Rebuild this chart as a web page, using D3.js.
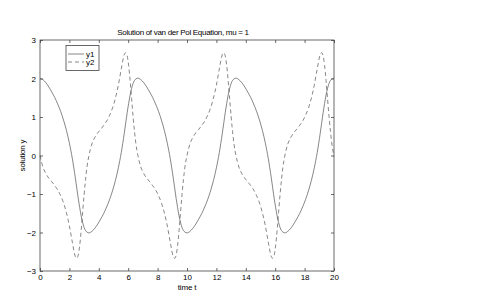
<!DOCTYPE html>
<html>
<head>
<meta charset="utf-8">
<script src="https://cdn.jsdelivr.net/npm/d3@7"></script>
<style>
  body { margin: 0; background: #fff; }
  svg { display: block; }
  text { font-family: "Liberation Sans", Arial, Helvetica, sans-serif; fill: #000; }
</style>
</head>
<body>
<svg id="chart" width="480" height="299"></svg>
<script>
// time points of the solver output
var time = [
  0, 0.2, 0.4, 0.6, 0.8, 1, 1.2, 1.4, 1.6, 1.8, 2, 2.2, 2.4, 2.5, 2.6, 2.7, 2.8, 2.9, 3, 3.1, 3.2,
  3.33, 3.53, 3.73, 3.93, 4.13, 4.33, 4.53, 4.73, 4.93, 5.13, 5.33, 5.53, 5.73, 5.83, 5.93, 6.03, 6.13, 6.23, 6.33, 6.43, 6.53,
  6.66, 6.86, 7.06, 7.26, 7.46, 7.66, 7.86, 8.06, 8.26, 8.46, 8.66, 8.86, 9.06, 9.16, 9.26, 9.36, 9.46, 9.56, 9.66, 9.76, 9.86,
  10, 10.2, 10.4, 10.6, 10.8, 11, 11.2, 11.4, 11.6, 11.8, 12, 12.2, 12.4, 12.5, 12.6, 12.7, 12.8, 12.9, 13, 13.1, 13.2,
  13.33, 13.53, 13.73, 13.93, 14.13, 14.33, 14.53, 14.73, 14.93, 15.13, 15.33, 15.53, 15.73, 15.83, 15.93, 16.03, 16.13, 16.23, 16.33, 16.43, 16.53,
  16.66, 16.86, 17.06, 17.26, 17.46, 17.66, 17.86, 18.06, 18.26, 18.46, 18.66, 18.86, 19.06, 19.16, 19.26, 19.36, 19.46, 19.56, 19.66, 19.76, 19.86,
  20
];
var y1 = [
  2.00, 1.97, 1.89, 1.78, 1.65, 1.51, 1.34, 1.15, 0.92, 0.65, 0.32, -0.08, -0.57, -0.84, -1.11, -1.35, -1.57, -1.74, -1.87, -1.95, -1.99,
  -2.01, -1.97, -1.89, -1.78, -1.65, -1.51, -1.34, -1.15, -0.92, -0.65, -0.32, 0.08, 0.57, 0.84, 1.11, 1.35, 1.57, 1.74, 1.87, 1.95, 1.99,
  2.01, 1.97, 1.89, 1.78, 1.65, 1.51, 1.34, 1.15, 0.92, 0.65, 0.32, -0.08, -0.57, -0.84, -1.11, -1.35, -1.57, -1.74, -1.87, -1.95, -1.99,
  -2.01, -1.97, -1.89, -1.78, -1.65, -1.51, -1.34, -1.15, -0.92, -0.65, -0.32, 0.08, 0.57, 0.84, 1.11, 1.35, 1.57, 1.74, 1.87, 1.95, 1.99,
  2.01, 1.97, 1.89, 1.78, 1.65, 1.51, 1.34, 1.15, 0.92, 0.65, 0.32, -0.08, -0.57, -0.84, -1.11, -1.35, -1.57, -1.74, -1.87, -1.95, -1.99,
  -2.01, -1.97, -1.89, -1.78, -1.65, -1.51, -1.34, -1.15, -0.92, -0.65, -0.32, 0.08, 0.57, 0.84, 1.11, 1.35, 1.57, 1.74, 1.87, 1.95, 1.99,
  2.01
];
var y2 = [
  0.00, -0.30, -0.47, -0.59, -0.68, -0.78, -0.89, -1.04, -1.23, -1.49, -1.83, -2.25, -2.62, -2.67, -2.59, -2.34, -1.95, -1.48, -1.02, -0.62, -0.29,
  0.00, 0.30, 0.47, 0.59, 0.68, 0.78, 0.89, 1.04, 1.23, 1.49, 1.83, 2.25, 2.62, 2.67, 2.59, 2.34, 1.95, 1.48, 1.02, 0.62, 0.29,
  0.00, -0.30, -0.47, -0.59, -0.68, -0.78, -0.89, -1.04, -1.23, -1.49, -1.83, -2.25, -2.62, -2.67, -2.59, -2.34, -1.95, -1.48, -1.02, -0.62, -0.29,
  0.00, 0.30, 0.47, 0.59, 0.68, 0.78, 0.89, 1.04, 1.23, 1.49, 1.83, 2.25, 2.62, 2.67, 2.59, 2.34, 1.95, 1.48, 1.02, 0.62, 0.29,
  0.00, -0.30, -0.47, -0.59, -0.68, -0.78, -0.89, -1.04, -1.23, -1.49, -1.83, -2.25, -2.62, -2.67, -2.59, -2.34, -1.95, -1.48, -1.02, -0.62, -0.29,
  0.00, 0.30, 0.47, 0.59, 0.68, 0.78, 0.89, 1.04, 1.23, 1.49, 1.83, 2.25, 2.62, 2.67, 2.59, 2.34, 1.95, 1.48, 1.02, 0.62, 0.29,
  -0.02
];
var xTicks = [0, 2, 4, 6, 8, 10, 12, 14, 16, 18, 20];
var yTicks = [-3, -2, -1, 0, 1, 2, 3];
var seriesNames = ['y1', 'y2'];

var svg = d3.select('#chart');
var plotLeft = 40, plotRight = 334, plotTop = 40, plotBottom = 271;
var axisColor = '#444';
var lineColor = '#454545';

var x = d3.scaleLinear().domain([0, 20]).range([plotLeft, plotRight]);
var y = d3.scaleLinear().domain([-3, 3]).range([plotBottom, plotTop]);

function styleAxis(g, showLabels){
    g.select('.domain').remove();
    g.selectAll('line').attr('stroke', axisColor).attr('stroke-width', 0.8);
    g.selectAll('text').style('font-size', '8px').attr('fill', '#000');
    if (!showLabels) g.selectAll('text').remove();
}

var fmt = function(d){ return d3.format('d')(d); };

svg.append('g').attr('transform', 'translate(0,' + plotBottom + ')')
    .call(d3.axisBottom(x).tickValues(xTicks).tickSizeInner(-3).tickSizeOuter(0).tickPadding(3).tickFormat(fmt))
    .call(styleAxis, true);
svg.append('g').attr('transform', 'translate(0,' + plotTop + ')')
    .call(d3.axisTop(x).tickValues(xTicks).tickSizeInner(-3).tickSizeOuter(0))
    .call(styleAxis, false);
svg.append('g').attr('transform', 'translate(' + plotLeft + ',0)')
    .call(d3.axisLeft(y).tickValues(yTicks).tickSizeInner(-3).tickSizeOuter(0).tickPadding(4).tickFormat(fmt))
    .call(styleAxis, true);
svg.append('g').attr('transform', 'translate(' + plotRight + ',0)')
    .call(d3.axisRight(y).tickValues(yTicks).tickSizeInner(-3).tickSizeOuter(0))
    .call(styleAxis, false);

// box
svg.append('rect')
    .attr('x', plotLeft).attr('y', plotTop)
    .attr('width', plotRight - plotLeft).attr('height', plotBottom - plotTop)
    .attr('fill', 'none').attr('stroke', axisColor).attr('stroke-width', 0.8);

var series = [
    { name: seriesNames[0], values: y1, dash: null },
    { name: seriesNames[1], values: y2, dash: '4,3' }
];

var line = d3.line()
    .x(function(d, i){ return x(time[i]); })
    .y(function(d){ return y(d); })
    .curve(d3.curveMonotoneX);

svg.selectAll('.series').data(series).enter().append('path')
    .attr('class', 'series')
    .attr('d', function(s){ return line(s.values); })
    .attr('fill', 'none')
    .attr('stroke', lineColor)
    .attr('stroke-width', 0.65)
    .attr('stroke-dasharray', function(s){ return s.dash; });

// legend
var lg = svg.append('g');
lg.append('rect')
    .attr('x', 66).attr('y', 45.5).attr('width', 33).attr('height', 25)
    .attr('fill', '#fff').attr('stroke', axisColor).attr('stroke-width', 0.8);
series.forEach(function(s, i){
    var ly = 54 + i * 8;
    lg.append('line')
        .attr('x1', 68).attr('x2', 84).attr('y1', ly).attr('y2', ly)
        .attr('stroke', lineColor).attr('stroke-width', 0.65)
        .attr('stroke-dasharray', s.dash);
    lg.append('text')
        .attr('x', 86).attr('y', ly + 3)
        .style('font-size', '8px')
        .text(s.name);
});

// titles
svg.append('text')
    .attr('x', 183).attr('y', 34.5)
    .attr('text-anchor', 'middle')
    .style('font-size', '8px')
    .style('letter-spacing', '-0.3px')
    .text('Solution of van der Pol Equation, mu = 1');
svg.append('text')
    .attr('x', 187).attr('y', 290)
    .attr('text-anchor', 'middle')
    .style('font-size', '8px')
    .style('letter-spacing', '-0.2px')
    .text('time t');
svg.append('text')
    .attr('transform', 'translate(25,155.5) rotate(-90)')
    .attr('text-anchor', 'middle')
    .style('font-size', '8px')
    .style('letter-spacing', '-0.2px')
    .text('solution y');
</script>
</body>
</html>
